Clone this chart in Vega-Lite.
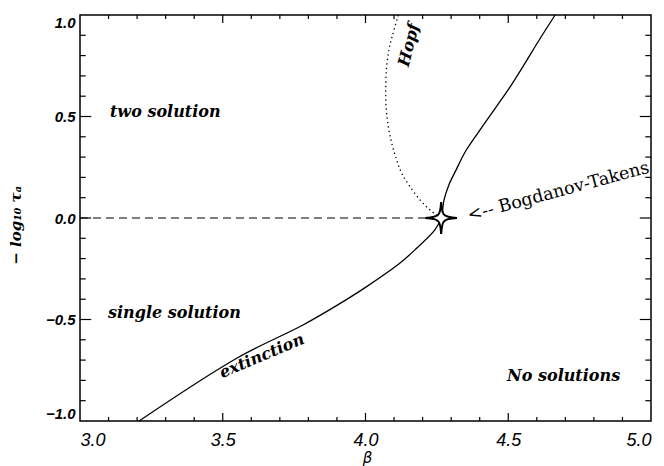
{
  "$schema": "https://vega.github.io/schema/vega-lite/v6.json",
  "width": 571,
  "height": 406,
  "autosize": {"type": "none"},
  "padding": {"left": 80, "top": 15, "right": 13, "bottom": 45},
  "background": "white",
  "config": {
    "view": {"stroke": "black", "strokeWidth": 1.5},
    "axis": {"grid": false, "domain": false, "labelColor": "black", "titleColor": "black"}
  },
  "datasets": {
    "saddle": [
      {"beta": 3.207, "tau": -1.0},
      {"beta": 3.549, "tau": -0.691},
      {"beta": 3.781, "tau": -0.527},
      {"beta": 3.897, "tau": -0.433},
      {"beta": 4.004, "tau": -0.338},
      {"beta": 4.121, "tau": -0.222},
      {"beta": 4.179, "tau": -0.149},
      {"beta": 4.243, "tau": -0.059},
      {"beta": 4.265, "tau": 0.0},
      {"beta": 4.275, "tau": 0.089},
      {"beta": 4.292, "tau": 0.163},
      {"beta": 4.317, "tau": 0.236},
      {"beta": 4.349, "tau": 0.325},
      {"beta": 4.394, "tau": 0.419},
      {"beta": 4.45, "tau": 0.532},
      {"beta": 4.506, "tau": 0.645},
      {"beta": 4.555, "tau": 0.754},
      {"beta": 4.604, "tau": 0.867},
      {"beta": 4.664, "tau": 1.0}
    ],
    "hopf": [
      {"beta": 4.265, "tau": 0.0},
      {"beta": 4.226, "tau": 0.039},
      {"beta": 4.191, "tau": 0.089},
      {"beta": 4.156, "tau": 0.154},
      {"beta": 4.127, "tau": 0.22},
      {"beta": 4.109, "tau": 0.286},
      {"beta": 4.092, "tau": 0.368},
      {"beta": 4.08, "tau": 0.45},
      {"beta": 4.072, "tau": 0.548},
      {"beta": 4.071, "tau": 0.647},
      {"beta": 4.074, "tau": 0.745},
      {"beta": 4.082, "tau": 0.828},
      {"beta": 4.093, "tau": 0.893},
      {"beta": 4.115, "tau": 1.0}
    ],
    "dash": [
      {"beta": 3.0, "tau": 0.0},
      {"beta": 4.265, "tau": 0.0}
    ],
    "star": [
      {"beta": 4.265, "tau": 0.0}
    ],
    "xmajor": [{"v": 3.5}, {"v": 4.0}, {"v": 4.5}],
    "xminor": [{"v": 3.1}, {"v": 3.2}, {"v": 3.3}, {"v": 3.4}, {"v": 3.6}, {"v": 3.7}, {"v": 3.8}, {"v": 3.9}, {"v": 4.1}, {"v": 4.2}, {"v": 4.3}, {"v": 4.4}, {"v": 4.6}, {"v": 4.7}, {"v": 4.8}, {"v": 4.9}],
    "ymajor": [{"v": -0.5}, {"v": 0.0}, {"v": 0.5}],
    "yminor": [{"v": -0.9}, {"v": -0.8}, {"v": -0.7}, {"v": -0.6}, {"v": -0.4}, {"v": -0.3}, {"v": -0.2}, {"v": -0.1}, {"v": 0.1}, {"v": 0.2}, {"v": 0.3}, {"v": 0.4}, {"v": 0.6}, {"v": 0.7}, {"v": 0.8}, {"v": 0.9}],
    "regions": [
      {"beta": 3.105, "tau": 0.5, "label": "two solution"},
      {"beta": 3.098, "tau": -0.493, "label": "single solution"},
      {"beta": 4.496, "tau": -0.803, "label": "No solutions"}
    ],
    "ext": [{"beta": 3.637, "tau": -0.68, "label": "extinction"}],
    "hopflab": [{"beta": 4.152, "tau": 0.852, "label": "Hopf"}],
    "bt": [{"beta": 4.359, "tau": 0.01, "label": "<-- Bogdanov-Takens"}]
  },
  "resolve": {"axis": {"x": "independent", "y": "independent"}},
  "layer": [
    {
      "data": {"name": "dash"},
      "mark": {"type": "line", "color": "black", "strokeWidth": 1.2, "strokeDash": [8, 5]},
      "encoding": {
        "x": {"field": "beta", "type": "quantitative", "scale": {"domain": [3, 5], "nice": false, "zero": false},
          "axis": {"orient": "bottom", "values": [3, 3.5, 4, 4.5, 5], "format": ".1f", "ticks": false, "tickSize": 0, "labelPadding": 10,
            "labelFont": "Liberation Sans", "labelFontStyle": "italic", "labelFontSize": 18, "labelFontWeight": "normal",
            "title": "β", "titleFont": "DejaVu Sans", "titleFontStyle": "italic", "titleFontWeight": "normal", "titleFontSize": 15,
            "titleX": 287, "titleY": 41, "titleBaseline": "alphabetic", "titleAlign": "center"}},
        "y": {"field": "tau", "type": "quantitative", "scale": {"domain": [-1, 1], "nice": false, "zero": false},
          "axis": {"orient": "left", "values": [-1, -0.5, 0, 0.5, 1], "format": ".1f", "ticks": false, "tickSize": 0, "labelPadding": 5, "labelFlush": true,
            "labelFont": "Liberation Sans", "labelFontStyle": "italic", "labelFontSize": 15, "labelFontWeight": "bold",
            "title": "− log₁₀ τₐ", "titleFont": "DejaVu Serif", "titleFontStyle": "italic", "titleFontWeight": "bold", "titleFontSize": 15,
            "titleX": -65, "titleY": 210, "titleAngle": 270, "titleBaseline": "middle", "titleAlign": "center"}}
      }
    },
    {
      "data": {"name": "xmajor"},
      "mark": {"type": "tick", "orient": "vertical", "color": "black", "size": 8, "thickness": 1.2, "opacity": 1},
      "encoding": {"x": {"field": "v", "type": "quantitative", "axis": null}, "y": {"datum": -0.98, "type": "quantitative", "axis": null}}
    },
    {
      "data": {"name": "xmajor"},
      "mark": {"type": "tick", "orient": "vertical", "color": "black", "size": 8, "thickness": 1.2, "opacity": 1},
      "encoding": {"x": {"field": "v", "type": "quantitative", "axis": null}, "y": {"datum": 0.98, "type": "quantitative", "axis": null}}
    },
    {
      "data": {"name": "xminor"},
      "mark": {"type": "tick", "orient": "vertical", "color": "black", "size": 4, "thickness": 1.2, "opacity": 1},
      "encoding": {"x": {"field": "v", "type": "quantitative", "axis": null}, "y": {"datum": -0.99, "type": "quantitative", "axis": null}}
    },
    {
      "data": {"name": "xminor"},
      "mark": {"type": "tick", "orient": "vertical", "color": "black", "size": 4, "thickness": 1.2, "opacity": 1},
      "encoding": {"x": {"field": "v", "type": "quantitative", "axis": null}, "y": {"datum": 0.99, "type": "quantitative", "axis": null}}
    },
    {
      "data": {"name": "ymajor"},
      "mark": {"type": "tick", "orient": "horizontal", "color": "black", "size": 11, "thickness": 1.2, "opacity": 1},
      "encoding": {"y": {"field": "v", "type": "quantitative", "axis": null}, "x": {"datum": 3.02, "type": "quantitative", "axis": null}}
    },
    {
      "data": {"name": "ymajor"},
      "mark": {"type": "tick", "orient": "horizontal", "color": "black", "size": 11, "thickness": 1.2, "opacity": 1},
      "encoding": {"y": {"field": "v", "type": "quantitative", "axis": null}, "x": {"datum": 4.98, "type": "quantitative", "axis": null}}
    },
    {
      "data": {"name": "yminor"},
      "mark": {"type": "tick", "orient": "horizontal", "color": "black", "size": 5.7, "thickness": 1.2, "opacity": 1},
      "encoding": {"y": {"field": "v", "type": "quantitative", "axis": null}, "x": {"datum": 3.01, "type": "quantitative", "axis": null}}
    },
    {
      "data": {"name": "yminor"},
      "mark": {"type": "tick", "orient": "horizontal", "color": "black", "size": 5.7, "thickness": 1.2, "opacity": 1},
      "encoding": {"y": {"field": "v", "type": "quantitative", "axis": null}, "x": {"datum": 4.99, "type": "quantitative", "axis": null}}
    },
    {
      "data": {"name": "saddle"},
      "mark": {"type": "line", "color": "black", "strokeWidth": 1.3, "interpolate": "catmull-rom"},
      "encoding": {
        "x": {"field": "beta", "type": "quantitative", "axis": null},
        "y": {"field": "tau", "type": "quantitative", "axis": null},
        "order": {"field": "tau", "type": "quantitative"}
      }
    },
    {
      "data": {"name": "hopf"},
      "mark": {"type": "line", "color": "black", "strokeWidth": 1.3, "strokeDash": [1.3, 3.2], "interpolate": "catmull-rom"},
      "encoding": {
        "x": {"field": "beta", "type": "quantitative", "axis": null},
        "y": {"field": "tau", "type": "quantitative", "axis": null},
        "order": {"field": "tau", "type": "quantitative"}
      }
    },
    {
      "data": {"name": "star"},
      "mark": {"type": "point", "shape": "M0,-1 Q0.05,-0.28 0.2,-0.2 Q0.28,-0.05 1,0 Q0.28,0.05 0.2,0.2 Q0.05,0.28 0,1 Q-0.05,0.28 -0.2,0.2 Q-0.28,0.05 -1,0 Q-0.28,-0.05 -0.2,-0.2 Q-0.05,-0.28 0,-1 Z", "size": 1000, "filled": false, "fill": "white", "fillOpacity": 1, "stroke": "black", "strokeWidth": 2, "opacity": 1},
      "encoding": {
        "x": {"field": "beta", "type": "quantitative", "axis": null},
        "y": {"field": "tau", "type": "quantitative", "axis": null}
      }
    },
    {
      "data": {"name": "regions"},
      "mark": {"type": "text", "align": "left", "baseline": "alphabetic", "font": "DejaVu Serif", "fontStyle": "italic", "fontWeight": "bold", "fontSize": 16, "color": "black"},
      "encoding": {
        "x": {"field": "beta", "type": "quantitative", "axis": null},
        "y": {"field": "tau", "type": "quantitative", "axis": null},
        "text": {"field": "label"}
      }
    },
    {
      "data": {"name": "ext"},
      "mark": {"type": "text", "align": "center", "baseline": "middle", "angle": 337, "font": "DejaVu Serif", "fontStyle": "italic", "fontWeight": "bold", "fontSize": 16, "color": "black"},
      "encoding": {
        "x": {"field": "beta", "type": "quantitative", "axis": null},
        "y": {"field": "tau", "type": "quantitative", "axis": null},
        "text": {"field": "label"}
      }
    },
    {
      "data": {"name": "hopflab"},
      "mark": {"type": "text", "align": "center", "baseline": "middle", "angle": 284, "font": "DejaVu Serif", "fontStyle": "italic", "fontWeight": "bold", "fontSize": 16, "color": "black"},
      "encoding": {
        "x": {"field": "beta", "type": "quantitative", "axis": null},
        "y": {"field": "tau", "type": "quantitative", "axis": null},
        "text": {"field": "label"}
      }
    },
    {
      "data": {"name": "bt"},
      "mark": {"type": "text", "align": "left", "baseline": "middle", "angle": 345, "font": "DejaVu Serif", "fontStyle": "normal", "fontWeight": "normal", "fontSize": 17.5, "color": "black"},
      "encoding": {
        "x": {"field": "beta", "type": "quantitative", "axis": null},
        "y": {"field": "tau", "type": "quantitative", "axis": null},
        "text": {"field": "label"}
      }
    }
  ]
}
